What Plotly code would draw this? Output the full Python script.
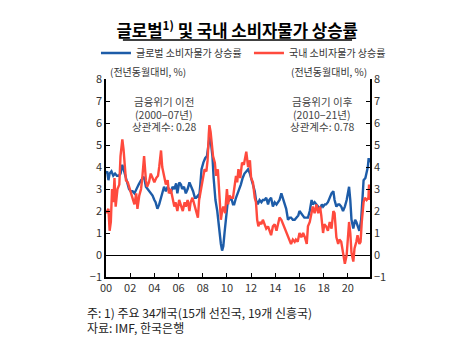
import plotly.graph_objects as go

# Global CPI inflation (blue) — (decimal year, % y/y)
global_x = [2000.0, 2000.1, 2000.2, 2000.3, 2000.45, 2000.6, 2000.75, 2000.9, 2001.05, 2001.2,
            2001.35, 2001.45, 2001.6, 2001.75, 2001.9, 2002.05, 2002.2, 2002.35, 2002.5, 2002.7,
            2002.9, 2003.05, 2003.15, 2003.3, 2003.45, 2003.6, 2003.75, 2003.85, 2004.0, 2004.1,
            2004.25, 2004.4, 2004.55, 2004.7, 2004.8, 2004.95, 2005.1, 2005.2, 2005.35, 2005.5,
            2005.65, 2005.8, 2005.9, 2006.06, 2006.2, 2006.3, 2006.45, 2006.6, 2006.75, 2006.9,
            2007.05, 2007.2, 2007.35, 2007.45, 2007.6, 2007.7, 2007.8, 2007.9, 2008.05, 2008.2,
            2008.35, 2008.45, 2008.6, 2008.7, 2008.8, 2008.9, 2009.05, 2009.2, 2009.35, 2009.5,
            2009.6, 2009.7, 2009.8, 2009.95, 2010.1, 2010.2, 2010.35, 2010.5, 2010.6, 2010.75,
            2010.9, 2011.0, 2011.15, 2011.3, 2011.45, 2011.6, 2011.75, 2011.9, 2012.0, 2012.15,
            2012.3, 2012.4, 2012.55, 2012.7, 2012.85, 2012.97, 2013.1, 2013.25, 2013.4, 2013.5,
            2013.65, 2013.8, 2013.95, 2014.1, 2014.2, 2014.35, 2014.5, 2014.65, 2014.8, 2014.9,
            2015.05, 2015.2, 2015.3, 2015.45, 2015.6, 2015.75, 2015.9, 2016.0, 2016.15, 2016.3,
            2016.4, 2016.55, 2016.7, 2016.85, 2017.0, 2017.1, 2017.25, 2017.4, 2017.55, 2017.7,
            2017.85, 2017.95, 2018.1, 2018.2, 2018.35, 2018.5, 2018.65, 2018.8, 2018.9, 2019.05,
            2019.2, 2019.3, 2019.45, 2019.6, 2019.75, 2019.9, 2020.0, 2020.1, 2020.2, 2020.3,
            2020.45, 2020.6, 2020.7, 2020.85, 2020.95, 2021.1, 2021.2, 2021.3, 2021.45, 2021.55,
            2021.65, 2021.72, 2021.8]
global_y = [3.7, 3.8, 3.4, 3.7, 3.8, 3.6, 3.7, 3.6, 3.6, 3.7,
            4.1, 3.9, 3.6, 3.3, 3.0, 2.9, 2.9, 2.8, 3.0, 3.2,
            3.4, 3.5, 3.55, 3.1, 3.0, 2.9, 2.8, 2.7, 2.5, 2.4,
            2.1, 2.3, 2.6, 2.9, 3.1, 2.9, 3.1, 3.0, 2.8, 3.1,
            3.0, 3.25, 2.8, 3.3, 3.2, 3.0, 3.1, 2.8, 3.0, 3.3,
            3.1, 2.9, 2.6, 2.6, 2.7, 2.6, 3.2, 3.9, 4.2, 4.4,
            4.5, 5.0, 5.5, 5.0, 4.5, 3.5, 2.5, 2.0, 1.2, 0.5,
            0.2, 0.4, 1.0, 2.0, 2.6, 2.5, 2.6, 2.3, 2.3, 2.6,
            2.8, 3.0, 3.2, 3.5, 3.7, 3.8, 3.9, 3.7, 3.5, 3.2,
            2.9, 2.5, 2.3, 2.5, 2.4, 2.5, 2.5, 2.6, 2.3, 2.5,
            2.6, 2.2, 2.4, 2.3, 2.4, 2.5, 2.8, 2.5, 2.3, 2.1,
            1.6, 1.7, 1.7, 1.6, 1.6, 1.7, 1.8, 2.0, 1.9, 1.8,
            1.7, 1.7, 1.7, 2.0, 2.5, 2.3, 2.4, 2.3, 2.2, 2.1,
            2.3, 2.2, 2.3, 2.3, 2.4, 2.6, 2.8, 2.9, 2.5, 2.2,
            2.3, 2.3, 2.2, 2.0, 2.2, 2.5, 2.9, 3.1, 2.5, 1.6,
            1.2, 1.6, 1.5, 1.3, 1.1, 1.6, 2.5, 3.4, 3.5, 3.7,
            4.0, 4.4, 4.2]

# Korea CPI inflation (red)
korea_x = [2000.0, 2000.1, 2000.2, 2000.3, 2000.4, 2000.5, 2000.6, 2000.7, 2000.8, 2000.95,
           2001.1, 2001.2, 2001.35, 2001.45, 2001.55, 2001.65, 2001.8, 2001.9, 2002.05, 2002.2,
           2002.35, 2002.5, 2002.6, 2002.75, 2002.9, 2003.0, 2003.15, 2003.3, 2003.4, 2003.55,
           2003.7, 2003.85, 2004.0, 2004.15, 2004.3, 2004.4, 2004.55, 2004.65, 2004.8, 2004.95,
           2005.1, 2005.2, 2005.35, 2005.5, 2005.65, 2005.75, 2005.9, 2006.05, 2006.2, 2006.35,
           2006.5, 2006.6, 2006.75, 2006.9, 2007.0, 2007.15, 2007.3, 2007.45, 2007.6, 2007.7,
           2007.85, 2008.0, 2008.15, 2008.3, 2008.4, 2008.5, 2008.55, 2008.65, 2008.75, 2008.85,
           2009.0, 2009.1, 2009.25, 2009.4, 2009.5, 2009.6, 2009.7, 2009.85, 2010.0, 2010.1,
           2010.2, 2010.35, 2010.5, 2010.6, 2010.75, 2010.85, 2010.95, 2011.1, 2011.25, 2011.4,
           2011.6, 2011.75, 2011.9, 2012.0, 2012.15, 2012.3, 2012.4, 2012.5, 2012.6, 2012.7,
           2012.85, 2012.97, 2013.1, 2013.25, 2013.4, 2013.5, 2013.65, 2013.8, 2013.95, 2014.1,
           2014.25, 2014.35, 2014.5, 2014.65, 2014.8, 2014.9, 2015.05, 2015.2, 2015.3, 2015.45,
           2015.6, 2015.7, 2015.85, 2016.0, 2016.15, 2016.3, 2016.45, 2016.6, 2016.7, 2016.85,
           2017.0, 2017.1, 2017.25, 2017.4, 2017.55, 2017.7, 2017.8, 2017.95, 2018.05, 2018.2,
           2018.35, 2018.5, 2018.65, 2018.8, 2018.9, 2019.05, 2019.2, 2019.3, 2019.45, 2019.6,
           2019.75, 2019.9, 2020.0, 2020.1, 2020.2, 2020.3, 2020.45, 2020.55, 2020.7, 2020.8,
           2020.95, 2021.05, 2021.15, 2021.3, 2021.4, 2021.55, 2021.7, 2021.75, 2021.8]
korea_y = [1.9, 2.0, 2.1, 1.1, 1.5, 3.0, 2.4, 3.5, 2.2, 3.0,
           3.2, 4.5, 5.25, 4.8, 4.0, 3.4, 3.3, 3.1, 2.8, 2.5,
           2.3, 2.8, 2.1, 2.7, 3.0, 3.5, 4.5, 3.4, 3.1, 3.3,
           3.7, 3.5, 3.3, 3.5, 3.6, 4.0, 4.75, 4.0, 3.5, 3.2,
           3.4, 2.8, 3.0, 2.5, 2.2, 2.4, 2.0, 2.5, 2.2, 2.0,
           2.4, 2.2, 2.5, 2.0, 2.4, 2.6, 2.3, 2.0, 1.7, 2.5,
           3.0, 3.6, 3.9, 3.8, 4.3, 5.5, 5.9, 5.6, 5.0, 4.5,
           4.2, 3.6, 3.9, 2.7, 1.6, 2.0, 2.2, 1.9, 3.0, 2.3,
           2.7, 2.6, 2.6, 3.0, 3.6, 3.3, 3.9, 3.5, 4.2, 4.1,
           4.7, 4.0, 4.3, 3.5, 3.3, 2.6, 2.4, 1.6, 1.3, 1.5,
           1.4, 1.6, 1.4, 1.2, 1.3, 1.1, 0.9, 1.3, 1.4, 1.1,
           1.4, 1.7, 1.6, 1.4, 1.2, 1.0, 0.8, 0.6, 0.5, 0.7,
           0.6, 0.7, 0.6, 1.0, 0.8, 1.0, 0.8, 0.5, 1.3, 1.5,
           2.0, 2.2, 1.9, 2.3, 1.9, 2.2, 1.8, 1.0, 1.4, 1.3,
           1.1, 1.5, 1.2, 2.0, 1.9, 0.8, 0.5, 0.7, 0.6, 0.0,
           -0.4, 0.0, 0.7, 1.5, 1.0, 0.1, -0.3, 0.3, 0.6, 0.9,
           0.5, 0.6, 1.5, 2.4, 2.6, 2.5, 2.6, 3.2, 2.5]

x_tickvals = [2000, 2002, 2004, 2006, 2008, 2010, 2012, 2014, 2016, 2018, 2020]
x_ticktext = ["00", "02", "04", "06", "08", "10", "12", "14", "16", "18", "20"]
y_tickvals = [-1, 0, 1, 2, 3, 4, 5, 6, 7, 8]
y_ticktext = ["−1", "0", "1", "2", "3", "4", "5", "6", "7", "8"]

FONT = "Noto Sans CJK KR, Noto Sans, sans-serif"
BLUE = "#1d5ca8"
RED = "#ff4a3d"

fig = go.Figure()
fig.add_trace(go.Scatter(x=global_x, y=global_y, mode="lines", name="글로벌 소비자물가 상승률",
                         line=dict(color=BLUE, width=2.4)))
fig.add_trace(go.Scatter(x=korea_x, y=korea_y, mode="lines", name="국내 소비자물가 상승률",
                         line=dict(color=RED, width=2.4)))
# invisible trace to carry the right axis
fig.add_trace(go.Scatter(x=[2000], y=[0], yaxis="y2", mode="markers", showlegend=False,
                         marker=dict(opacity=0), hoverinfo="skip"))

axis_common = dict(range=[-1, 8], tickvals=y_tickvals, ticktext=y_ticktext, showgrid=False,
                   showline=True, linecolor="black", linewidth=1.5, ticks="inside",
                   ticklen=4, tickcolor="black", tickfont=dict(size=11, color="#333", family=FONT))

fig.update_layout(
    width=466, height=363,
    margin=dict(l=106, r=96, t=79, b=86, autoexpand=False),
    paper_bgcolor="white", plot_bgcolor="white",
    font=dict(family=FONT, color="#333"),
    title=dict(text="<b>글로벌<sup>1)</sup> 및 국내 소비자물가 상승률</b>",
               x=0.509, xanchor="center", y=0.913, yanchor="middle",
               font=dict(size=16.7, color="black", family=FONT)),
    showlegend=True,
    legend=dict(orientation="h", x=-0.038, xanchor="left", y=1.131, yanchor="middle",
                font=dict(size=10, color="#333", family=FONT), entrywidth=108,
                entrywidthmode="pixels",
                itemwidth=30, bgcolor="rgba(0,0,0,0)", tracegroupgap=0),
    xaxis=dict(range=[2000, 2021.83], tickvals=x_tickvals, ticktext=x_ticktext,
               showgrid=False, zeroline=False, showline=True, linecolor="black", linewidth=1.5,
               ticks="inside", ticklen=4, tickcolor="black",
               tickfont=dict(size=11, color="#333", family=FONT)),
    yaxis=dict(**axis_common, side="left", zeroline=True, zerolinecolor="black", zerolinewidth=1.2),
    yaxis2=dict(**axis_common, side="right", overlaying="y", zeroline=False),
)

# title underline
fig.add_shape(type="line", xref="paper", yref="paper", x0=0.064, x1=0.932, y0=1.197, y1=1.197,
              line=dict(color="black", width=1.5))

unit_font = dict(size=10, color="#333", family=FONT)
fig.add_annotation(xref="paper", yref="paper", x=0.006, y=1.037, xanchor="left", yanchor="middle",
                   text="(전년동월대비, %)", showarrow=False, font=unit_font)
fig.add_annotation(xref="paper", yref="paper", x=0.996, y=1.037, xanchor="right", yanchor="middle",
                   text="(전년동월대비, %)", showarrow=False, font=unit_font)

ann_font = dict(size=10.5, color="#444", family=FONT)
left_lines = ["금융위기 이전", "(2000−07년)", "상관계수: 0.28"]
right_lines = ["금융위기 이후", "(2010−21년)", "상관계수: 0.78"]
line_y = [0.884, 0.823, 0.758]
for txt, yy in zip(left_lines, line_y):
    fig.add_annotation(xref="paper", yref="paper", x=0.22, y=yy, xanchor="center",
                       yanchor="middle", text=txt, showarrow=False, font=ann_font)
for txt, yy in zip(right_lines, line_y):
    fig.add_annotation(xref="paper", yref="paper", x=0.82, y=yy, xanchor="center",
                       yanchor="middle", text=txt, showarrow=False, font=ann_font)

foot_font = dict(size=12, color="#222", family=FONT)
fig.add_annotation(xref="paper", yref="paper", x=-0.08, y=-0.179, xanchor="left", yanchor="middle",
                   text="주: 1) 주요 34개국(15개 선진국, 19개 신흥국)", showarrow=False,
                   font=foot_font)
fig.add_annotation(xref="paper", yref="paper", x=-0.08, y=-0.255, xanchor="left", yanchor="middle",
                   text="자료: IMF, 한국은행", showarrow=False, font=foot_font)

fig.write_html("out.html", config={"displayModeBar": False},
               post_script="document.body.style.margin='0px';")
